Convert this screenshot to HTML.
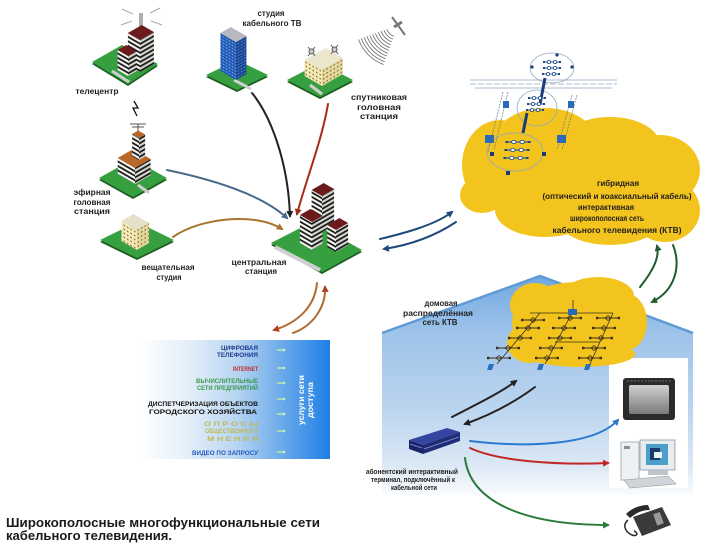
<!DOCTYPE html>
<html>
<head>
<meta charset="utf-8">
<style>
html,body{margin:0;padding:0;background:#fff;width:702px;height:549px;overflow:hidden;}
svg{display:block;}
text{font-family:"Liberation Sans","DejaVu Sans",sans-serif;font-weight:bold;}
</style>
</head>
<body>
<svg width="702" height="549" viewBox="0 0 702 549" xmlns="http://www.w3.org/2000/svg">
<defs>
  <linearGradient id="hg" x1="0" y1="276" x2="0" y2="500" gradientUnits="userSpaceOnUse">
    <stop offset="0" stop-color="#6fa8e0"/>
    <stop offset="0.25" stop-color="#9ec3ea"/>
    <stop offset="0.6" stop-color="#bcd5ef"/>
    <stop offset="0.85" stop-color="#dce8f5"/>
    <stop offset="1" stop-color="#ffffff"/>
  </linearGradient>
  <linearGradient id="pg" x1="140" y1="0" x2="330" y2="0" gradientUnits="userSpaceOnUse">
    <stop offset="0" stop-color="#ffffff"/>
    <stop offset="0.25" stop-color="#e4eff9"/>
    <stop offset="0.5" stop-color="#b9d6f1"/>
    <stop offset="0.75" stop-color="#6aa9ea"/>
    <stop offset="1" stop-color="#1f7fe6"/>
  </linearGradient>
  <linearGradient id="tvg" x1="0" y1="0" x2="0" y2="1">
    <stop offset="0" stop-color="#d0d0d0"/>
    <stop offset="1" stop-color="#7a7a7a"/>
  </linearGradient>
  <pattern id="sL" width="10" height="4.5" patternUnits="userSpaceOnUse" patternTransform="skewY(30)">
    <rect width="10" height="4.5" fill="#f6f6f2"/><rect y="2.4" width="10" height="2" fill="#151515"/>
  </pattern>
  <pattern id="sR" width="10" height="4.5" patternUnits="userSpaceOnUse" patternTransform="skewY(-30)">
    <rect width="10" height="4.5" fill="#d6d6d0"/><rect y="2.4" width="10" height="2" fill="#151515"/>
  </pattern>
  <pattern id="gL" width="3" height="3" patternUnits="userSpaceOnUse" patternTransform="skewY(30)">
    <rect width="3" height="3" fill="#1d4fa8"/><rect x="0.5" y="0.5" width="2" height="1.6" fill="#5b9be8"/>
  </pattern>
  <pattern id="gR" width="3" height="3" patternUnits="userSpaceOnUse" patternTransform="skewY(-30)">
    <rect width="3" height="3" fill="#163c85"/><rect x="0.5" y="0.5" width="2" height="1.6" fill="#3f7ccc"/>
  </pattern>
  <pattern id="cL" width="3.5" height="4" patternUnits="userSpaceOnUse" patternTransform="skewY(30)">
    <rect width="3.5" height="4" fill="#f6eab4"/><rect x="1" y="1" width="1.4" height="1.4" fill="#7a6a40"/>
  </pattern>
  <pattern id="cR" width="3.5" height="4" patternUnits="userSpaceOnUse" patternTransform="skewY(-30)">
    <rect width="3.5" height="4" fill="#e6d89a"/><rect x="1" y="1" width="1.4" height="1.4" fill="#7a6a40"/>
  </pattern>
  <marker id="aK" markerWidth="7" markerHeight="7" refX="5" refY="3.5" orient="auto" markerUnits="userSpaceOnUse"><path d="M0,0 L7,3.5 L0,7 z" fill="#222"/></marker>
  <marker id="aR" markerWidth="7" markerHeight="7" refX="5" refY="3.5" orient="auto" markerUnits="userSpaceOnUse"><path d="M0,0 L7,3.5 L0,7 z" fill="#a52a1a"/></marker>
  <marker id="aB" markerWidth="7" markerHeight="7" refX="5" refY="3.5" orient="auto" markerUnits="userSpaceOnUse"><path d="M0,0 L7,3.5 L0,7 z" fill="#4a6a8a"/></marker>
  <marker id="aO" markerWidth="7" markerHeight="7" refX="5" refY="3.5" orient="auto" markerUnits="userSpaceOnUse"><path d="M0,0 L7,3.5 L0,7 z" fill="#a87530"/></marker>
  <marker id="aN" markerWidth="7" markerHeight="7" refX="5" refY="3.5" orient="auto" markerUnits="userSpaceOnUse"><path d="M0,0 L7,3.5 L0,7 z" fill="#1f4a7a"/></marker>
  <marker id="aG" markerWidth="7" markerHeight="7" refX="5" refY="3.5" orient="auto" markerUnits="userSpaceOnUse"><path d="M0,0 L7,3.5 L0,7 z" fill="#1e5a2a"/></marker>
  <marker id="aBr" markerWidth="7" markerHeight="7" refX="5" refY="3.5" orient="auto" markerUnits="userSpaceOnUse"><path d="M0,0 L7,3.5 L0,7 z" fill="#b0401e"/></marker>
  <marker id="aBl" markerWidth="7" markerHeight="7" refX="5" refY="3.5" orient="auto" markerUnits="userSpaceOnUse"><path d="M0,0 L7,3.5 L0,7 z" fill="#2a7ad0"/></marker>
  <marker id="aRd" markerWidth="7" markerHeight="7" refX="5" refY="3.5" orient="auto" markerUnits="userSpaceOnUse"><path d="M0,0 L7,3.5 L0,7 z" fill="#c02828"/></marker>
  <marker id="aGr" markerWidth="7" markerHeight="7" refX="5" refY="3.5" orient="auto" markerUnits="userSpaceOnUse"><path d="M0,0 L7,3.5 L0,7 z" fill="#2a7a3a"/></marker>
  <g id="nd">
    <line x1="-11" y1="0" x2="11" y2="0" stroke="#3a2e1a" stroke-width="0.9"/>
    <rect x="-12" y="-1.2" width="2.4" height="2.4" fill="#3a2e1a"/>
    <rect x="9.6" y="-1.2" width="2.4" height="2.4" fill="#3a2e1a"/>
    <path d="M-3,0 L0,-2.5 L3,0 L0,2.5 Z" fill="none" stroke="#3a2e1a" stroke-width="0.8"/>
  </g>
  <g id="ch">
    <line x1="-8" y1="0" x2="8" y2="0" stroke="#1a4a8a" stroke-width="0.9"/>
    <circle cx="-3" cy="0" r="1.6" fill="#fff" stroke="#1a4a8a" stroke-width="0.8"/>
    <circle cx="3" cy="0" r="1.6" fill="#fff" stroke="#1a4a8a" stroke-width="0.8"/>
    <rect x="-9" y="-1" width="2" height="2" fill="#1a4a8a"/>
    <rect x="7" y="-1" width="2" height="2" fill="#1a4a8a"/>
  </g>
  <g id="ga">
    <line x1="-4" y1="0" x2="3" y2="0" stroke="#c8f0b0" stroke-width="1.3"/>
    <path d="M2,-1.8 L5,0 L2,1.8z" fill="#c8f0b0"/>
  </g>
</defs>

<rect width="702" height="549" fill="#fff"/>

<!-- HOUSE -->
<polygon points="382,333 540,276 693,333 693,495 382,495" fill="url(#hg)"/>
<polyline points="382,333 540,276 693,333" fill="none" stroke="#5f9ad6" stroke-width="2.5"/>
<rect x="609" y="358" width="79" height="130" fill="#ffffff"/>

<!-- HOUSE CLOUD -->
<g fill="#f3c41e">
  <ellipse cx="577" cy="322" rx="65" ry="40"/>
  <ellipse cx="535" cy="305" rx="25" ry="22"/>
  <ellipse cx="598" cy="296" rx="36" ry="19"/>
  <ellipse cx="627" cy="322" rx="20" ry="28"/>
  <ellipse cx="530" cy="343" rx="23" ry="20"/>
  <ellipse cx="580" cy="354" rx="55" ry="13"/>
</g>
<!-- house network -->
<g stroke="#3a2e1a" stroke-width="0.8" fill="none">
  <line x1="530" y1="313" x2="613" y2="313"/>
  <line x1="555" y1="342" x2="600" y2="342"/>
  <line x1="540" y1="313" x2="497" y2="364"/>
  <line x1="572" y1="313" x2="545" y2="364"/>
  <line x1="613" y1="313" x2="590" y2="364"/>
  <line x1="573" y1="300" x2="573" y2="310"/>
</g>
<rect x="568" y="309" width="9" height="6" fill="#2a6ab8"/>
<use href="#nd" x="533" y="320"/><use href="#nd" x="528" y="328"/><use href="#nd" x="520" y="338"/><use href="#nd" x="508" y="348"/><use href="#nd" x="499" y="358"/>
<use href="#nd" x="570" y="318"/><use href="#nd" x="564" y="328"/><use href="#nd" x="560" y="338"/><use href="#nd" x="551" y="348"/><use href="#nd" x="547" y="358"/>
<use href="#nd" x="608" y="318"/><use href="#nd" x="604" y="328"/><use href="#nd" x="601" y="338"/><use href="#nd" x="594" y="348"/><use href="#nd" x="590" y="358"/>
<g fill="#2a70c0">
  <polygon points="489,364 494,364 492,370 487,370"/>
  <polygon points="539,364 544,364 542,370 537,370"/>
  <polygon points="586,364 591,364 589,370 584,370"/>
</g>

<!-- TOP CLOUD -->
<g fill="#f3c41e">
  <ellipse cx="580" cy="180" rx="95" ry="48"/>
  <ellipse cx="500" cy="165" rx="38" ry="45"/>
  <ellipse cx="545" cy="140" rx="50" ry="32"/>
  <ellipse cx="610" cy="145" rx="50" ry="28"/>
  <ellipse cx="660" cy="170" rx="40" ry="35"/>
  <ellipse cx="665" cy="210" rx="35" ry="32"/>
  <ellipse cx="610" cy="215" rx="55" ry="30"/>
  <ellipse cx="545" cy="210" rx="50" ry="27"/>
  <ellipse cx="482" cy="195" rx="22" ry="18"/>
</g>
<!-- top network -->
<g stroke="#8fa8c0" stroke-width="0.8" fill="none">
  <line x1="470" y1="80" x2="617" y2="80"/>
  <line x1="470" y1="84" x2="617" y2="84" stroke-dasharray="6,2"/>
  <line x1="475" y1="88" x2="612" y2="88"/>
  <ellipse cx="552" cy="68" rx="22" ry="15"/>
  <ellipse cx="537" cy="108" rx="20" ry="18"/>
  <ellipse cx="515" cy="152" rx="28" ry="19"/>
</g>
<g stroke="#6a7a8a" stroke-width="0.7" stroke-dasharray="2,1">
  <line x1="503" y1="92" x2="488" y2="152"/>
  <line x1="508" y1="92" x2="494" y2="150"/>
  <line x1="572" y1="95" x2="557" y2="150"/>
  <line x1="577" y1="95" x2="562" y2="150"/>
</g>
<g stroke="#1a3a7a" stroke-width="3">
  <line x1="545" y1="78" x2="540" y2="104"/>
  <line x1="527" y1="113" x2="523" y2="133"/>
</g>
<g fill="#1a3a7a">
  <circle cx="532" cy="67" r="1.6"/><circle cx="572" cy="67" r="1.6"/><circle cx="557" cy="55" r="1.6"/>
  <rect x="490" y="152" width="4" height="4"/><rect x="542" y="152" width="4" height="4"/><rect x="506" y="171" width="4" height="4"/>
</g>
<use href="#ch" x="552" y="62"/><use href="#ch" x="552" y="68"/><use href="#ch" x="551" y="74"/>
<use href="#ch" x="537" y="98"/><use href="#ch" x="536" y="104"/><use href="#ch" x="535" y="110"/>
<use href="#ch" transform="translate(518,142) scale(1.4,1)"/><use href="#ch" transform="translate(517,150) scale(1.4,1)"/><use href="#ch" transform="translate(516,158) scale(1.4,1)"/>
<g fill="#2a6ab8">
  <rect x="485" y="135" width="9" height="8"/><rect x="557" y="135" width="9" height="8"/>
  <rect x="503" y="101" width="6" height="7"/><rect x="568" y="101" width="6" height="7"/>
</g>

<!-- Cloud text -->
<g fill="#1e1e1e" font-size="8" text-anchor="middle">
  <text x="618" y="186">гибридная</text>
  <text x="617" y="199" textLength="149" lengthAdjust="spacingAndGlyphs">(оптический и коаксиальный кабель)</text>
  <text x="606" y="210" textLength="56" lengthAdjust="spacingAndGlyphs">интерактивная</text>
  <text x="607" y="221" textLength="74" lengthAdjust="spacingAndGlyphs">широкополосная сеть</text>
  <text x="617" y="233" textLength="129" lengthAdjust="spacingAndGlyphs">кабельного телевидения (КТВ)</text>
</g>

<!-- SATELLITE -->
<g stroke="#666" stroke-width="0.8" fill="none">
  <path d="M393.9,36.3 A12 12 0 0 1 386.7,29.1"/>
  <path d="M392.9,39.1 A15 15 0 0 1 383.9,30.1"/>
  <path d="M391.8,41.9 A18 18 0 0 1 381.1,31.2"/>
  <path d="M390.8,44.7 A21 21 0 0 1 378.3,32.2"/>
  <path d="M389.8,47.6 A24 24 0 0 1 375.4,33.2"/>
  <path d="M388.8,50.4 A27 27 0 0 1 372.6,34.2"/>
  <path d="M387.7,53.2 A30 30 0 0 1 369.8,35.3"/>
  <path d="M386.7,56.0 A33 33 0 0 1 367.0,36.3"/>
  <path d="M385.7,58.8 A36 36 0 0 1 364.2,37.3"/>
  <path d="M384.7,61.7 A39 39 0 0 1 361.3,38.3"/>
  <path d="M383.6,64.5 A42 42 0 0 1 358.5,39.4"/>
</g>
<g stroke="#777">
  <line x1="392" y1="17" x2="405" y2="35" stroke-width="2"/>
  <line x1="394" y1="27" x2="402" y2="22" stroke-width="3"/>
</g>

<!-- PANEL -->
<rect x="140" y="340" width="190" height="119" fill="url(#pg)"/>
<g font-size="6.5">
  <text x="221" y="350" fill="#24358f" textLength="37" lengthAdjust="spacingAndGlyphs">ЦИФРОВАЯ</text>
  <text x="217" y="357" fill="#24358f" textLength="41" lengthAdjust="spacingAndGlyphs">ТЕЛЕФОНИЯ</text>
  <text x="233" y="371" fill="#c02a2a" textLength="25" lengthAdjust="spacingAndGlyphs">INTERNET</text>
  <text x="196" y="383" fill="#3a9a4a" textLength="62" lengthAdjust="spacingAndGlyphs">ВЫЧИСЛИТЕЛЬНЫЕ</text>
  <text x="197" y="390" fill="#3a9a4a" textLength="61" lengthAdjust="spacingAndGlyphs">СЕТИ ПРЕДПРИЯТИЙ</text>
  <text x="148" y="406" fill="#111" textLength="110" lengthAdjust="spacingAndGlyphs">ДИСПЕТЧЕРИЗАЦИЯ ОБЪЕКТОВ</text>
  <text x="149" y="414" fill="#111" textLength="108" lengthAdjust="spacingAndGlyphs">ГОРОДСКОГО ХОЗЯЙСТВА</text>
  <text x="204" y="426" fill="#c0b850" textLength="54" lengthAdjust="spacingAndGlyphs">О П Р О С Ы</text>
  <text x="205" y="433" fill="#c0b850" textLength="53" lengthAdjust="spacingAndGlyphs">ОБЩЕСТВЕННОГО</text>
  <text x="207" y="441" fill="#c0b850" textLength="51" lengthAdjust="spacingAndGlyphs">М Н Е Н И Я</text>
  <text x="192" y="455" fill="#2858c0" textLength="66" lengthAdjust="spacingAndGlyphs">ВИДЕО ПО ЗАПРОСУ</text>
</g>
<use href="#ga" x="281" y="350"/><use href="#ga" x="281" y="368"/><use href="#ga" x="281" y="383"/><use href="#ga" x="281" y="399"/><use href="#ga" x="281" y="414"/><use href="#ga" x="281" y="431"/><use href="#ga" x="281" y="452"/>
<g fill="#ffffff" font-size="8" text-anchor="middle">
  <text transform="translate(304,400) rotate(-90)" textLength="50" lengthAdjust="spacingAndGlyphs">услуги сети</text>
  <text transform="translate(313,400) rotate(-90)" textLength="36" lengthAdjust="spacingAndGlyphs">доступа</text>
</g>

<!-- BUILDINGS -->
<!-- телецентр -->
<polygon points="92,64 122,47 158,66 128,86" fill="#1d5e22"/>
<polygon points="92,62 122,45 158,64 128,84" fill="#36a040"/>
<line x1="112" y1="71" x2="129" y2="82" stroke="#cfcfcf" stroke-width="3"/>
<polygon points="127.9,65 140,72 140,40 127.9,33" fill="url(#sL)"/>
<polygon points="140,72 153.9,64 153.9,32 140,40" fill="url(#sR)"/>
<polygon points="127.9,33 140,40 153.9,32 141.8,25" fill="#6b1b1b"/>
<polygon points="117.6,70 128,76 128,56 117.6,50" fill="url(#sL)"/>
<polygon points="128,76 136.7,71 136.7,51 128,56" fill="url(#sR)"/>
<polygon points="117.6,50 128,56 136.7,51 126.3,45" fill="#6b1b1b"/>
<g stroke="#333" stroke-width="0.8">
  <line x1="140" y1="13" x2="140" y2="27"/><line x1="142" y1="13" x2="142" y2="27"/>
</g>
<g stroke="#aaa" stroke-width="1">
  <line x1="122" y1="9" x2="133" y2="14"/><line x1="150" y1="13" x2="160" y2="8"/>
  <line x1="121" y1="25" x2="132" y2="21"/><line x1="151" y1="21" x2="162" y2="25"/>
</g>
<polyline points="134,101 138,108 133,108 137,116" fill="none" stroke="#111" stroke-width="1.3"/>

<!-- студия кабельного ТВ -->
<polygon points="206,77 237,62 268,77 237,92" fill="#1d5e22"/>
<polygon points="206,75 237,60 268,75 237,90" fill="#36a040"/>
<line x1="234" y1="80" x2="251" y2="89" stroke="#cfcfcf" stroke-width="3"/>
<polygon points="220.4,71 236,80 236,42 220.4,33" fill="url(#gL)"/>
<polygon points="236,80 246.4,74 246.4,36 236,42" fill="url(#gR)"/>
<polygon points="220.4,33 236,42 246.4,36 230.8,27" fill="#b8b8c0"/>

<!-- спутниковая -->
<polygon points="287,82 320,65 353,82 320,99" fill="#1d5e22"/>
<polygon points="287,80 320,63 353,80 320,97" fill="#36a040"/>
<line x1="310" y1="85" x2="322" y2="94" stroke="#cfcfcf" stroke-width="3"/>
<polygon points="304.7,76 322,86 322,70 304.7,60" fill="url(#cL)"/>
<polygon points="322,86 342.8,74 342.8,58 322,70" fill="url(#cR)"/>
<polygon points="304.7,60 322,70 342.8,58 325.5,48" fill="#ece6cc"/>
<g stroke="#555" stroke-width="1" fill="none">
  <path d="M308,47 L315,56 M315,47 L308,56"/><circle cx="311.5" cy="51.5" r="2.5" fill="#ccc"/>
  <path d="M331,45 L338,54 M338,45 L331,54"/><circle cx="334.5" cy="49.5" r="2.5" fill="#ccc"/>
</g>

<!-- эфирная -->
<polygon points="99,180 133,161 167,180 133,199" fill="#1d5e22"/>
<polygon points="99,178 133,159 167,178 133,197" fill="#36a040"/>
<line x1="138" y1="185" x2="149" y2="193" stroke="#cfcfcf" stroke-width="3"/>
<polygon points="117.7,174 135,184 135,168 117.7,158" fill="url(#sL)"/>
<polygon points="135,184 150.6,175 150.6,159 135,168" fill="url(#sR)"/>
<polygon points="117.7,158 135,168 150.6,159 133.3,149" fill="#b8682a"/>
<polygon points="132.1,156 139,160 139,138 132.1,134" fill="url(#sL)"/>
<polygon points="139,160 145.1,156.5 145.1,134.5 139,138" fill="url(#sR)"/>
<polygon points="132.1,134 139,138 145.1,134.5 138.2,130.5" fill="#b8682a"/>
<g stroke="#444" stroke-width="0.9">
  <line x1="138" y1="131" x2="138" y2="124"/>
  <line x1="130" y1="124" x2="146" y2="124"/>
  <line x1="132" y1="127" x2="144" y2="127"/>
</g>

<!-- вещательная -->
<polygon points="100,242 137,224 174,242 137,260" fill="#1d5e22"/>
<polygon points="100,240 137,222 174,240 137,258" fill="#36a040"/>
<polygon points="121.4,241 137,250 137,230 121.4,221" fill="url(#cL)"/>
<polygon points="137,250 149.1,243 149.1,223 137,230" fill="url(#cR)"/>
<polygon points="121.4,221 137,230 149.1,223 133.5,214" fill="#e4e0cc"/>

<!-- центральная -->
<polygon points="271,245 312,224 362,252 322,274" fill="#1d5e22"/>
<polygon points="271,243 312,222 362,250 322,272" fill="#36a040"/>
<line x1="275" y1="247" x2="320" y2="270" stroke="#cfcfcf" stroke-width="4"/>
<polygon points="311.6,226 322,232 322,196 311.6,190" fill="url(#sL)"/>
<polygon points="322,232 334.1,225 334.1,189 322,196" fill="url(#sR)"/>
<polygon points="311.6,190 322,196 334.1,189 323.7,183" fill="#6b1b1b"/>
<polygon points="299.9,243 312,250 312,222 299.9,215" fill="url(#sL)"/>
<polygon points="312,250 322.4,244 322.4,216 312,222" fill="url(#sR)"/>
<polygon points="299.9,215 312,222 322.4,216 310.3,209" fill="#6b1b1b"/>
<polygon points="327.3,247 336,252 336,230 327.3,225" fill="url(#sL)"/>
<polygon points="336,252 348.1,245 348.1,223 336,230" fill="url(#sR)"/>
<polygon points="327.3,225 336,230 348.1,223 339.4,218" fill="#6b1b1b"/>

<!-- ARROWS left -->
<g fill="none" stroke-width="2" stroke-linecap="round">
  <path d="M252,93 C270,115 288,160 290,216" stroke="#222" marker-end="url(#aK)"/>
  <path d="M328,104 C322,140 306,180 297,214" stroke="#a52a1a" marker-end="url(#aR)"/>
  <path d="M167,170 C215,180 262,195 287,218" stroke="#4a6a8a" marker-end="url(#aB)"/>
  <path d="M173,237 C200,218 255,212 282,229" stroke="#a87530" marker-end="url(#aO)"/>
  <path d="M380,239 C405,233 435,225 452,212" stroke="#1f4a7a" marker-end="url(#aN)"/>
  <path d="M456,222 C435,236 410,245 384,249" stroke="#1f4a7a" marker-end="url(#aN)"/>
  <path d="M640,287 C652,272 660,258 657,246" stroke="#1e5a2a" marker-end="url(#aG)"/>
  <path d="M673,245 C681,265 676,290 652,302" stroke="#1e5a2a" marker-end="url(#aG)"/>
  <path d="M317,283 C315,305 300,322 274,330" stroke="#b06a30" marker-end="url(#aBr)"/>
  <path d="M293,333 C315,325 326,305 325,287" stroke="#b06a30" marker-end="url(#aBr)"/>
  <path d="M452,417 C475,405 500,393 516,381" stroke="#222" marker-end="url(#aK)"/>
  <path d="M535,387 C515,402 490,415 465,424" stroke="#222" marker-end="url(#aK)"/>
  <path d="M470,441 C530,448 595,445 618,420" stroke="#2a7ad0" marker-end="url(#aBl)"/>
  <path d="M470,448 C500,462 560,465 608,463" stroke="#c02828" marker-end="url(#aRd)"/>
  <path d="M465,458 C470,500 520,525 608,525" stroke="#2a7a3a" marker-end="url(#aGr)"/>
</g>

<!-- TERMINAL BOX -->
<polygon points="409,440 447,428 460,432 423,445" fill="#3445a0"/>
<polygon points="409,440 423,445 423,454 409,449" fill="#1a2366"/>
<polygon points="423,445 460,432 460,441 423,454" fill="#202c78"/>
<line x1="424" y1="449" x2="459" y2="437" stroke="#8a9ad8" stroke-width="0.7"/>
<line x1="410" y1="444" x2="422" y2="448" stroke="#8a9ad8" stroke-width="0.7"/>

<!-- TV -->
<rect x="623" y="378" width="52" height="42" rx="3" fill="#2b2b2b"/>
<rect x="629" y="385" width="40" height="29" rx="2" fill="url(#tvg)"/>
<line x1="627" y1="381" x2="671" y2="381" stroke="#888" stroke-width="0.8" stroke-dasharray="2,1.5"/>

<!-- COMPUTER -->
<rect x="621" y="442" width="18" height="38" fill="#eef0f2" stroke="#9aa4ae" stroke-width="0.8"/>
<rect x="624" y="446" width="6" height="3" fill="#8890a0"/>
<rect x="640" y="440" width="35" height="30" fill="#e8ecef" stroke="#8a9aa8" stroke-width="0.8"/>
<rect x="646" y="444" width="22" height="21" fill="#4aa0c8"/>
<rect x="650" y="448" width="10" height="12" fill="#1a3a6a"/>
<rect x="654" y="452" width="8" height="6" fill="#e8f4f8"/>
<rect x="648" y="470" width="20" height="5" fill="#bcc4cc"/>
<polygon points="624,480 668,476 676,484 630,488" fill="#d0d4d8" stroke="#999" stroke-width="0.6"/>

<!-- PHONE -->
<path d="M633,517 L662,507 L671,525 L642,536 Z" fill="#3a3a3a"/>
<rect x="655" y="513" width="7" height="12" fill="#9a9a9a" transform="rotate(-20 658 519)"/>
<path d="M626,514 C632,508 640,505 648,505 L650,510 C642,510 636,513 630,518 Z" fill="#2a2a2a"/>
<path d="M628,520 C621,526 627,533 632,535 C637,537 639,533 634,531" stroke="#2a2a2a" fill="none" stroke-width="1.5"/>

<!-- LABELS -->
<g fill="#222" font-size="8" text-anchor="middle">
  <text x="271" y="16" textLength="27" lengthAdjust="spacingAndGlyphs">студия</text>
  <text x="272" y="26" textLength="59" lengthAdjust="spacingAndGlyphs">кабельного ТВ</text>
  <text x="97" y="94" textLength="43" lengthAdjust="spacingAndGlyphs">телецентр</text>
  <text x="379" y="100" textLength="56" lengthAdjust="spacingAndGlyphs">спутниковая</text>
  <text x="379" y="110" textLength="44" lengthAdjust="spacingAndGlyphs">головная</text>
  <text x="379" y="119" textLength="38" lengthAdjust="spacingAndGlyphs">станция</text>
  <text x="92" y="195" textLength="37" lengthAdjust="spacingAndGlyphs">эфирная</text>
  <text x="92" y="205" textLength="37" lengthAdjust="spacingAndGlyphs">головная</text>
  <text x="92" y="214" textLength="36" lengthAdjust="spacingAndGlyphs">станция</text>
  <text x="168" y="270" textLength="53" lengthAdjust="spacingAndGlyphs">вещательная</text>
  <text x="169" y="280" textLength="25" lengthAdjust="spacingAndGlyphs">студия</text>
  <text x="259" y="265" textLength="55" lengthAdjust="spacingAndGlyphs">центральная</text>
  <text x="261" y="274" textLength="32" lengthAdjust="spacingAndGlyphs">станция</text>
  <text x="441" y="306" textLength="33" lengthAdjust="spacingAndGlyphs">домовая</text>
  <text x="438" y="316" textLength="70" lengthAdjust="spacingAndGlyphs">распределённая</text>
  <text x="440" y="325" textLength="35" lengthAdjust="spacingAndGlyphs">сеть КТВ</text>
</g>
<g fill="#222" font-size="7" text-anchor="middle">
  <text x="412" y="474" textLength="92" lengthAdjust="spacingAndGlyphs">абонентский интерактивный</text>
  <text x="413" y="482" textLength="84" lengthAdjust="spacingAndGlyphs">терминал, подключённый к</text>
  <text x="414" y="490" textLength="46" lengthAdjust="spacingAndGlyphs">кабельной сети</text>
</g>

<!-- CAPTION -->
<g fill="#1a1a1a" font-size="13">
  <text x="6" y="527" textLength="314" lengthAdjust="spacingAndGlyphs">Широкополосные  многофункциональные  сети</text>
  <text x="6" y="540" textLength="166" lengthAdjust="spacingAndGlyphs">кабельного телевидения.</text>
</g>
</svg>
</body>
</html>
